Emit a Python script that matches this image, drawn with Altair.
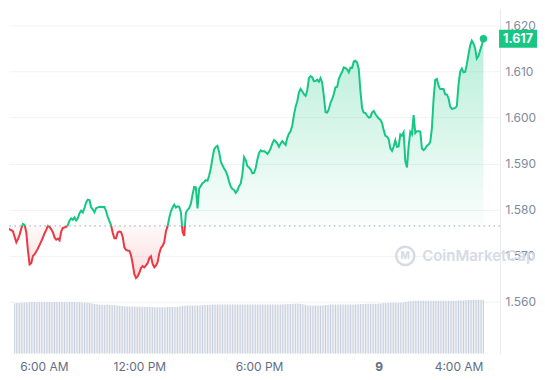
import altair as alt
import pandas as pd

# ---------------- data ----------------
start_time = "2024-06-08 05:20"          # 5-minute price series
prices = [
    1.57646, 1.57594, 1.57570, 1.57553, 1.57527, 1.57408, 1.57289, 1.57360, 1.57458, 1.57592,
    1.57689, 1.57668, 1.57505, 1.57109, 1.56810, 1.56836, 1.56996, 1.57035, 1.57092, 1.57157,
    1.57235, 1.57313, 1.57395, 1.57488, 1.57562, 1.57650, 1.57624, 1.57572, 1.57510, 1.57397,
    1.57347, 1.57371, 1.57332, 1.57523, 1.57603, 1.57614, 1.57624, 1.57663, 1.57763, 1.57809,
    1.57778, 1.57830, 1.57765, 1.57813, 1.57921, 1.57977, 1.57939, 1.58036, 1.58155, 1.58218,
    1.58209, 1.58051, 1.58006, 1.57943, 1.58029, 1.58049, 1.58058, 1.58062, 1.58053, 1.58058,
    1.57971, 1.57843, 1.57752, 1.57663, 1.57494, 1.57380, 1.57380, 1.57505, 1.57523, 1.57512,
    1.57408, 1.57180, 1.57126, 1.57115, 1.57105, 1.57011, 1.56823, 1.56600, 1.56515, 1.56552,
    1.56630, 1.56732, 1.56775, 1.56745, 1.56788, 1.56838, 1.56949, 1.56988, 1.56823, 1.56749,
    1.56786, 1.56860, 1.57048, 1.57170, 1.57211, 1.57295, 1.57529, 1.57637, 1.57822, 1.57964,
    1.58045, 1.58105, 1.58045, 1.58071, 1.58060, 1.57945, 1.57516, 1.57430, 1.57939, 1.57997,
    1.58032, 1.58129, 1.58322, 1.58491, 1.58484, 1.58029, 1.58458, 1.58515, 1.58573, 1.58601,
    1.58640, 1.58627, 1.58740, 1.58898, 1.59117, 1.59305, 1.59361, 1.59383, 1.59251, 1.59043,
    1.58963, 1.58891, 1.58835, 1.58740, 1.58608, 1.58502, 1.58447, 1.58428, 1.58363, 1.58417,
    1.58508, 1.58567, 1.58772, 1.59141, 1.59076, 1.58946, 1.58915, 1.58870, 1.58787, 1.58798,
    1.58902, 1.59086, 1.59227, 1.59286, 1.59264, 1.59271, 1.59247, 1.59210, 1.59255, 1.59329,
    1.59435, 1.59511, 1.59485, 1.59433, 1.59364, 1.59433, 1.59487, 1.59444, 1.59405, 1.59559,
    1.59650, 1.59706, 1.59827, 1.60050, 1.60230, 1.60353, 1.60538, 1.60618, 1.60570, 1.60505,
    1.60468, 1.60587, 1.60852, 1.60899, 1.60873, 1.60787, 1.60789, 1.60819, 1.60778, 1.60856,
    1.60756, 1.60462, 1.60115, 1.60107, 1.60180, 1.60319, 1.60397, 1.60509, 1.60657, 1.60663,
    1.60832, 1.60921, 1.60992, 1.61088, 1.61070, 1.61044, 1.60979, 1.61081, 1.61077, 1.61215,
    1.61231, 1.61192, 1.61047, 1.60570, 1.60202, 1.60104, 1.60098, 1.60042, 1.59996, 1.60007,
    1.60111, 1.60141, 1.60076, 1.60022, 1.59979, 1.59951, 1.59877, 1.59725, 1.59602, 1.59585,
    1.59530, 1.59331, 1.59277, 1.59370, 1.59502, 1.59364, 1.59370, 1.59632, 1.59604, 1.59678,
    1.59054, 1.58917, 1.59379, 1.59689, 1.59634, 1.60050, 1.59660, 1.59702, 1.59702, 1.59695,
    1.59325, 1.59292, 1.59327, 1.59385, 1.59411, 1.59465, 1.59769, 1.60397, 1.60815, 1.60834,
    1.60689, 1.60616, 1.60618, 1.60616, 1.60501, 1.60499, 1.60414, 1.60234, 1.60185, 1.60193,
    1.60208, 1.60245, 1.60715, 1.60995, 1.61062, 1.60979, 1.60988, 1.61151, 1.61367, 1.61560,
    1.61668, 1.61607, 1.61501, 1.61278, 1.61332, 1.61452, 1.61573, 1.61707,
]
volume = [  # 24h rolling volume (relative units)
    50.6, 50.7, 50.7, 50.8, 50.7, 50.6, 50.7, 50.8, 50.9, 51.0, 51.1, 51.2, 51.3, 51.4,
    51.6, 51.7, 51.7, 51.8, 51.7, 51.7, 51.8, 51.8, 51.7, 51.7,
    51.6, 51.7, 51.8, 51.8, 51.7, 51.7, 51.7, 51.6, 51.7, 51.8,
    51.7, 51.7, 51.6, 51.6, 51.7, 51.7, 51.8, 51.7, 51.6, 51.6,
    51.5, 51.5, 51.4, 51.3, 51.2, 51.0, 50.8, 50.5, 50.2,
    49.8, 49.5, 49.3, 49.1, 49.0, 49.0, 48.9, 49.0, 49.0, 48.9, 48.8, 48.8, 48.7, 48.5, 48.3, 48.1, 47.9, 47.7,
    47.5, 47.4, 47.3, 47.3, 47.2, 47.3, 47.3, 47.2, 47.1, 47.1, 47.0, 47.0, 46.9, 46.9, 46.8, 46.8, 46.7, 46.7,
    46.6, 46.6, 46.6, 46.5, 46.5, 46.6, 46.6, 46.6, 46.7, 46.7, 46.7, 46.8, 46.8, 46.9, 47.0, 47.2, 47.5, 47.8,
    48.1, 48.2, 48.3, 48.3, 48.3, 48.4, 48.4, 48.3, 48.3, 48.4, 48.5, 48.6, 48.7, 48.8, 48.9, 49.0,
    49.1, 49.2, 49.3, 49.3, 49.3, 49.2, 49.3, 49.3, 49.4, 49.4,
    49.3, 49.3, 49.3, 49.2, 49.3, 49.3, 49.4, 49.4, 49.4, 49.3,
    49.3, 49.2, 49.2, 49.3, 49.3, 49.3, 49.4, 49.3, 49.3, 49.2,
    49.2, 49.3, 49.3, 49.4, 49.4, 49.3, 49.3, 49.3, 49.2, 49.3,
    49.3, 49.4, 49.4, 49.5, 49.5, 49.6, 49.7, 49.8, 49.9, 50.0,
    50.1, 50.1, 50.2, 50.1, 50.0, 49.8, 49.4, 49.0,
    48.6, 48.4, 48.3, 48.3, 48.2, 48.3, 48.3, 48.3, 48.4, 48.4, 48.5, 48.7, 48.9, 49.1,
    49.2, 49.3, 49.3, 49.3, 49.3, 49.4, 49.3, 49.3, 49.3, 49.2, 49.3, 49.3, 49.3, 49.4, 49.4, 49.4, 49.5, 49.6, 49.7, 49.8,
    49.9, 50.0, 50.0, 50.0, 50.1, 50.0, 50.0, 50.0, 50.1, 50.2, 50.3, 50.5, 50.7,
    50.8, 50.9, 51.0, 51.0, 51.0, 51.1, 51.0, 51.0, 51.1, 51.1, 51.2, 51.4, 51.7, 52.0, 52.4,
    52.7, 52.9, 53.0, 53.0, 53.0, 53.1, 53.0, 53.0, 53.0, 53.1,
    53.1, 53.0, 53.0, 53.0, 52.9, 53.0, 53.0, 53.1, 53.1, 53.0,
    53.0, 53.0, 53.1, 53.1, 53.1, 53.0, 53.0, 53.1, 53.1, 53.2,
    53.2, 53.3, 53.4, 53.5, 53.6, 53.7, 53.8,
    53.9, 54.0, 54.0, 54.0, 54.1, 54.0, 54.0, 54.1,
]
y_ticks = [1.56, 1.57, 1.58, 1.59, 1.60, 1.61, 1.62]
x_ticks = [(8, 6), (8, 12), (8, 18), (9, 0), (9, 4)]   # (day, hour)
watermark = "CoinMarketCap"

# ---------------- frames ----------------
GREEN, RED = "#16c784", "#ea3943"
times = pd.date_range(start_time, periods=len(prices), freq="5min")
base = prices[0]

rows = []
for k in range(len(prices)):
    t, p = times[k], prices[k]
    if k > 0:
        t0, p0 = times[k - 1], prices[k - 1]
        if (p0 - base) * (p - base) < 0:
            f = (base - p0) / (p - p0)
            rows.append((t0 + (t - t0) * f, base))
    rows.append((t, p))
df = pd.DataFrame(rows, columns=["time", "price"])
df["up"] = df["price"].where(df["price"] >= base)
df["down"] = df["price"].where(df["price"] <= base)
last = df.tail(1)

vtimes = pd.date_range(start_time, periods=len(volume), freq="5min")
vdf = pd.DataFrame({"time": vtimes, "vol": volume})
vdf = vdf[vdf["time"] >= pd.Timestamp("2024-06-08 05:44")]

W, H = 492, 346
x_scale = alt.Scale(domain=[alt.DateTime(year=2024, month=6, date=8, hours=5, minutes=43),
                            alt.DateTime(year=2024, month=6, date=9, hours=5, minutes=50)])
y_scale = alt.Scale(domain=[1.54874, 1.62368], nice=False, zero=False)

first_tick = "hours(datum.value) == 6"
x_axis = alt.Axis(
    values=[alt.DateTime(year=2024, month=6, date=d, hours=h) for d, h in x_ticks],
    labelExpr="hours(datum.value) == 0 ? timeFormat(datum.value, '%-d') : timeFormat(datum.value, '%-I:%M %p')",
    title=None, grid=False, domain=False, ticks=False, labelPadding=8,
    labelAlign={"condition": {"test": first_tick, "value": "left"}, "value": "center"},
    labelFontSize=12, labelColor="#616e85", labelFont="Inter",
    labelFontWeight={"condition": {"test": "hours(datum.value) == 0", "value": "bold"}, "value": "normal"},
)
y_axis = alt.Axis(values=y_ticks, orient="right", format=".3f", title=None, grid=True,
                  gridColor="#f1f3f6", ticks=False, domain=True, domainColor="#e8ebf0",
                  labelPadding=5, labelFontSize=12, labelColor="#808a9d", labelFont="Inter")

X = alt.X("time:T", scale=x_scale, axis=x_axis)

vol = alt.Chart(vdf).mark_bar(width=1, color="#c9d0dd", clip=True).encode(
    x=X, y=alt.Y("vol:Q", scale=alt.Scale(domain=[0, H]), axis=None)
)

green_grad = alt.Gradient(gradient="linear", x1=1, x2=1, y1=0, y2=1, stops=[
    alt.GradientStop(color="rgba(22,199,132,0.30)", offset=0),
    alt.GradientStop(color="rgba(22,199,132,0.02)", offset=1)])
red_grad = alt.Gradient(gradient="linear", x1=1, x2=1, y1=0, y2=1, stops=[
    alt.GradientStop(color="rgba(234,57,67,0.03)", offset=0),
    alt.GradientStop(color="rgba(234,57,67,0.18)", offset=1)])

pc = alt.Chart(df)
area_up = pc.mark_area(color=green_grad, clip=True).encode(
    x=X, y=alt.Y("up:Q", scale=y_scale, axis=y_axis), y2=alt.datum(base))
area_dn = pc.mark_area(color=red_grad, clip=True).encode(
    x=X, y=alt.Y("down:Q", scale=y_scale, axis=y_axis), y2=alt.datum(base))
baseline = alt.Chart(df.head(1)).mark_rule(color="#9aa3b5", strokeDash=[1.5, 3.5], strokeWidth=1).encode(
    y=alt.Y(datum=base, scale=y_scale, axis=y_axis))
line_up = pc.mark_line(color=GREEN, strokeWidth=2, clip=True).encode(
    x=X, y=alt.Y("up:Q", scale=y_scale, axis=y_axis))
line_dn = pc.mark_line(color=RED, strokeWidth=2, clip=True).encode(
    x=X, y=alt.Y("down:Q", scale=y_scale, axis=y_axis))
dot = alt.Chart(last).mark_circle(size=55, color=GREEN, opacity=1).encode(
    x=X, y=alt.Y("price:Q", scale=y_scale, axis=y_axis))
tag = alt.Chart(last).mark_rect(color=GREEN, yOffset=-9, y2Offset=9).encode(
    x=alt.value(491), x2=alt.value(529),
    y=alt.Y("price:Q", scale=y_scale, axis=y_axis), y2=alt.Y2("price:Q"))
tag_text = alt.Chart(last).mark_text(color="white", fontWeight="bold", fontSize=12.5, font="Inter",
                                     align="center", baseline="middle").encode(
    x=alt.value(510), y=alt.Y("price:Q", scale=y_scale, axis=y_axis),
    text=alt.Text("price:Q", format=".3f"))

wm_df = pd.DataFrame({"t": [watermark], "m": ["M"]})
WM = "#d6dbe4"
wm_ring = alt.Chart(wm_df).mark_point(shape="circle", filled=False, size=330, strokeWidth=2.5,
                                      color=WM, opacity=1).encode(x=alt.value(397), y=alt.value(248))
wm_m = alt.Chart(wm_df).mark_text(fontSize=10, fontWeight="bold", color=WM, font="Inter",
                                  baseline="middle").encode(x=alt.value(397), y=alt.value(248), text="m:N")
wm_text = alt.Chart(wm_df).mark_text(align="left", baseline="middle", fontSize=15, fontWeight=600,
                                     color=WM, font="Inter").encode(
    x=alt.value(414), y=alt.value(248), text="t:N")

price_layer = alt.layer(wm_ring, wm_m, wm_text, area_up, area_dn, baseline,
                        line_dn, line_up, dot, tag, tag_text)

chart = alt.layer(vol, price_layer).resolve_scale(y="independent").properties(
    width=W, height=H, padding=0, background="white"
).configure_view(stroke=None)

chart.save("out.html", embed_options={"renderer": "svg", "actions": False})
